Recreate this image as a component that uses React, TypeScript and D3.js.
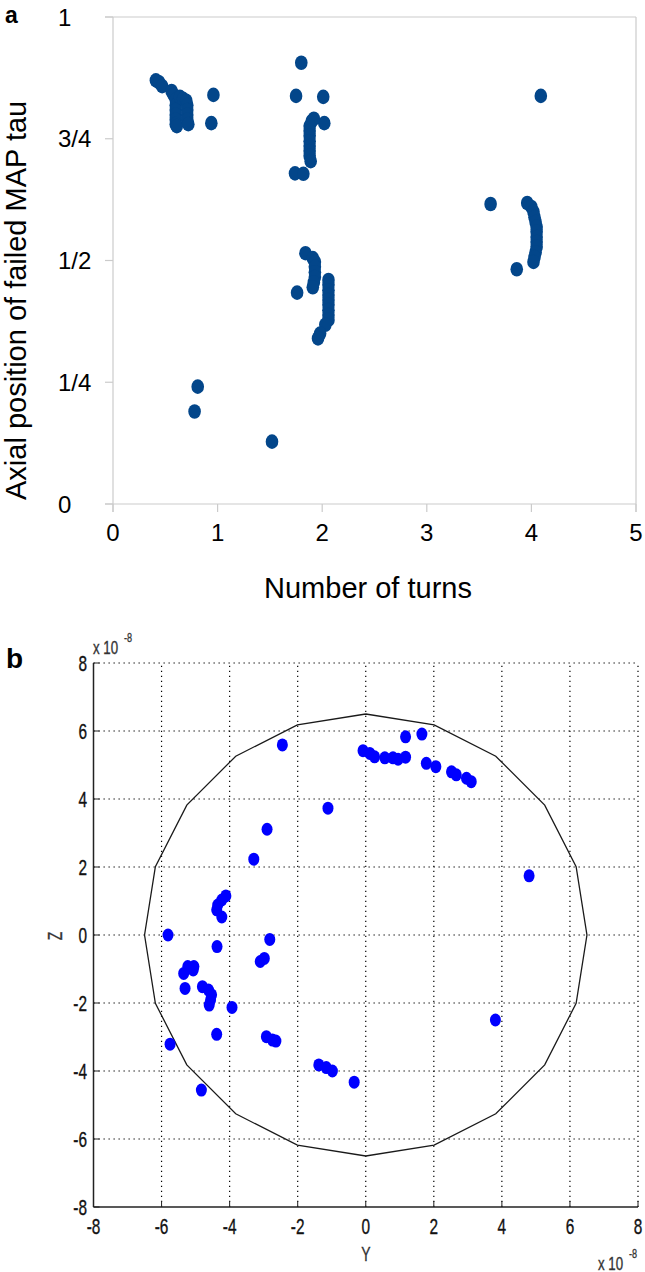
import React from "react";
import * as d3 from "d3";

// ---------- Panel a data ----------
const turns = [
  0.41, 0.44, 0.47,
  0.56, 0.58, 0.60, 0.60, 0.60, 0.60, 0.60, 0.60, 0.61,
  0.64, 0.67, 0.70, 0.71, 0.71, 0.71, 0.71, 0.72,
  0.96, 0.94,
  1.80, 1.75, 2.01, 2.02,
  1.90, 1.92, 1.88, 1.88, 1.88, 1.88, 1.88, 1.88, 1.88, 1.89,
  1.74, 1.82,
  4.09, 3.61,
  3.96, 4.00, 4.02, 4.03, 4.04, 4.05, 4.05, 4.05, 4.05, 4.05, 4.04, 4.03, 4.02,
  3.86,
  1.84, 1.91, 1.93, 1.93, 1.93, 1.93, 1.92, 1.91,
  1.76,
  2.06, 2.06, 2.06, 2.06, 2.06, 2.06, 2.06, 2.06, 2.06,
  2.03, 1.98, 1.96,
  0.81, 0.78, 1.52,
];
const axialPos = [
  0.870, 0.866, 0.858,
  0.848, 0.840, 0.830, 0.819, 0.809, 0.799, 0.789, 0.780, 0.776,
  0.836, 0.832, 0.828, 0.819, 0.809, 0.799, 0.789, 0.780,
  0.840, 0.782,
  0.906, 0.838, 0.836, 0.782,
  0.786, 0.791, 0.776, 0.766, 0.756, 0.745, 0.735, 0.725, 0.715, 0.704,
  0.679, 0.678,
  0.838, 0.616,
  0.618, 0.610, 0.600, 0.589, 0.579, 0.569, 0.559, 0.548, 0.538, 0.528, 0.517, 0.507, 0.497,
  0.482,
  0.515, 0.505, 0.497, 0.487, 0.476, 0.466, 0.455, 0.445,
  0.434,
  0.460, 0.450, 0.439, 0.429, 0.419, 0.409, 0.398, 0.388, 0.378,
  0.368, 0.350, 0.340,
  0.241, 0.190, 0.128,
];
const xTicksA = [0, 1, 2, 3, 4, 5];
const yTickValsA = [0, 0.25, 0.5, 0.75, 1];
const yTickLabelsA = ["0", "1/4", "1/2", "3/4", "1"];

// ---------- Panel b data (units of 1e-8) ----------
const failY = [
  -2.45, -1.11, -2.90, -3.29,
  -4.11, -4.23, -4.35, -4.38, -4.23,
  -5.81, -2.82, -4.37,
  1.17, 1.65,
  -0.08, 0.12, 0.26, 0.56, 0.80, 0.95, 1.17,
  1.78, 2.06, 2.52, 2.66, 2.96, 3.10,
  4.80,
  -3.10, -2.98,
  -5.35, -5.23, -5.05, -5.07,
  -5.31,
  -4.80, -4.62, -4.53, -4.56, -4.60,
  -3.93, -4.38, -5.75,
  -2.92, -2.74, -2.64,
  -1.38, -1.16, -0.98,
  -0.34, -4.83, 3.81,
];
const failZ = [
  5.59, 3.73, 3.11, 2.23,
  1.15, 1.03, 0.88, 0.74, 0.53,
  0.0, -0.13, -0.34,
  5.83, 5.91,
  5.42, 5.34, 5.24, 5.21, 5.21, 5.17, 5.23,
  5.05, 4.95, 4.80, 4.71, 4.61, 4.51,
  1.74,
  -0.78, -0.69,
  -1.13, -0.93, -0.93, -1.03,
  -1.57,
  -1.52, -1.62, -1.76, -1.91, -2.06,
  -2.13, -2.92, -3.21,
  -2.99, -3.09, -3.12,
  -3.82, -3.90, -4.00,
  -4.33, -4.56, -2.50,
];
const ticksB = [-8, -6, -4, -2, 0, 2, 4, 6, 8];
const boundaryRadius = 6.5;
const boundarySides = 20;

const FONT = "'Liberation Sans', Arial, Helvetica, sans-serif";

function Squeezed(props: any) {
  const { x, y, sx = 0.7, rotate = 0, anchor = "middle", size = 20, fill = "#111", children } = props;
  return (
    <text
      transform={`translate(${x},${y}) rotate(${rotate}) scale(${sx},1)`}
      textAnchor={anchor}
      fontSize={size}
      fontFamily={FONT}
      fill={fill}
      stroke={fill}
      strokeWidth={0.35}
    >
      {children}
    </text>
  );
}

export default function App() {
  // Panel a scales
  const xA = d3.scaleLinear().domain([0, 5]).range([113, 636]);
  const yA = d3.scaleLinear().domain([0, 1]).range([504, 17]);
  const axisGray = "#cbcbcb";
  const dotBlue = "#03468a";

  // Panel b scales
  const xB = d3.scaleLinear().domain([-8, 8]).range([93.5, 638]);
  const yB = d3.scaleLinear().domain([-8, 8]).range([1207, 663]);

  const polyPts = d3.range(boundarySides + 1).map((i) => {
    const a = (i / boundarySides) * 2 * Math.PI;
    return [boundaryRadius * Math.sin(a), boundaryRadius * Math.cos(a)] as [number, number];
  });
  const polyLine = d3
    .line<[number, number]>()
    .x((d) => xB(d[0]))
    .y((d) => yB(d[1]))(polyPts);

  return (
    <svg
      width={645}
      height={1272}
      style={{ position: "absolute", left: 0, top: 0, background: "#fff" }}
      fontFamily={FONT}
    >
      <rect x={0} y={0} width={645} height={1272} fill="#fff" />
      {/* ---------------- Panel a ---------------- */}
      <text x={5} y={23} fontSize={23} fontWeight="bold" fill="#000">a</text>
      {/* frame */}
      <line x1={xA(0) - 8} x2={xA(5)} y1={yA(1)} y2={yA(1)} stroke={axisGray} strokeWidth={1.2} />
      <line x1={xA(0) - 8} x2={xA(5)} y1={yA(0)} y2={yA(0)} stroke={axisGray} strokeWidth={1.2} />
      <line x1={xA(0)} x2={xA(0)} y1={yA(1)} y2={yA(0) + 8} stroke={axisGray} strokeWidth={1.2} />
      <line x1={xA(5)} x2={xA(5)} y1={yA(1)} y2={yA(0) + 8} stroke={axisGray} strokeWidth={1.2} />
      {xTicksA.map((t) => (
        <g key={"xt" + t}>
          <line x1={xA(t)} x2={xA(t)} y1={yA(0)} y2={yA(0) + 8} stroke={axisGray} strokeWidth={1.2} />
          <text x={xA(t)} y={541} textAnchor="middle" fontSize={24} fill="#000">{t}</text>
        </g>
      ))}
      {yTickValsA.map((t, i) => (
        <g key={"yt" + t}>
          <line x1={xA(0) - 8} x2={xA(0)} y1={yA(t)} y2={yA(t)} stroke={axisGray} strokeWidth={1.2} />
          <text x={58} y={yA(t) + 8.5} textAnchor="start" fontSize={24} fill="#000">{yTickLabelsA[i]}</text>
        </g>
      ))}
      <text x={368} y={598} textAnchor="middle" fontSize={29} fill="#000">Number of turns</text>
      <text transform={`translate(26,500) rotate(-90)`} textAnchor="start" fontSize={29} fill="#000">
        Axial position of failed MAP tau
      </text>
      {turns.map((t, i) => (
        <ellipse key={"pa" + i} cx={xA(t)} cy={yA(axialPos[i])} rx={6.3} ry={7.3} fill={dotBlue} />
      ))}

      {/* ---------------- Panel b ---------------- */}
      <text x={6} y={668} fontSize={28} fontWeight="bold" fill="#000">b</text>
      {/* grid */}
      {ticksB.map((t) => (
        <g key={"g" + t}>
          {t !== -8 && (
            <line x1={xB(t)} x2={xB(t)} y1={yB(-8)} y2={yB(8)} stroke="#000" strokeWidth={1.2} strokeDasharray="1.3 3.7" />
          )}
          {t !== -8 && (
            <line x1={xB(-8)} x2={xB(8)} y1={yB(t)} y2={yB(t)} stroke="#000" strokeWidth={1.2} strokeDasharray="1.3 3.7" />
          )}
        </g>
      ))}
      {/* axes */}
      <line x1={xB(-8)} x2={xB(8)} y1={yB(-8)} y2={yB(-8)} stroke="#222" strokeWidth={1.5} />
      <line x1={xB(-8)} x2={xB(-8)} y1={yB(-8)} y2={yB(8)} stroke="#222" strokeWidth={1.5} />
      {ticksB.map((t) => (
        <g key={"tb" + t}>
          <line x1={xB(t)} x2={xB(t)} y1={yB(-8)} y2={yB(-8) - 6} stroke="#222" strokeWidth={1} />
          <line x1={xB(-8)} x2={xB(-8) + 6} y1={yB(t)} y2={yB(t)} stroke="#222" strokeWidth={1} />
          <Squeezed x={xB(t)} y={1234} size={22}>{t}</Squeezed>
          <Squeezed x={87} y={yB(t) + 8} size={22} anchor="end">{t}</Squeezed>
        </g>
      ))}
      <Squeezed x={366} y={1261} size={20} fill="#333">Y</Squeezed>
      <Squeezed x={62} y={936} size={20} rotate={-90} fill="#333">Z</Squeezed>
      {/* exponent labels */}
      <Squeezed x={93} y={654} size={19} anchor="start" fill="#333">x 10</Squeezed>
      <Squeezed x={124} y={642} size={13} anchor="start" fill="#333">-8</Squeezed>
      <Squeezed x={598} y={1270} size={19} anchor="start" fill="#333">x 10</Squeezed>
      <Squeezed x={629} y={1258} size={13} anchor="start" fill="#333">-8</Squeezed>
      {/* boundary polygon */}
      <path d={polyLine || ""} fill="none" stroke="#1a1a1a" strokeWidth={1.3} />
      {failY.map((v, i) => (
        <ellipse key={"pb" + i} cx={xB(v)} cy={yB(failZ[i])} rx={5.5} ry={6.5} fill="#0000ff" />
      ))}
    </svg>
  );
}
